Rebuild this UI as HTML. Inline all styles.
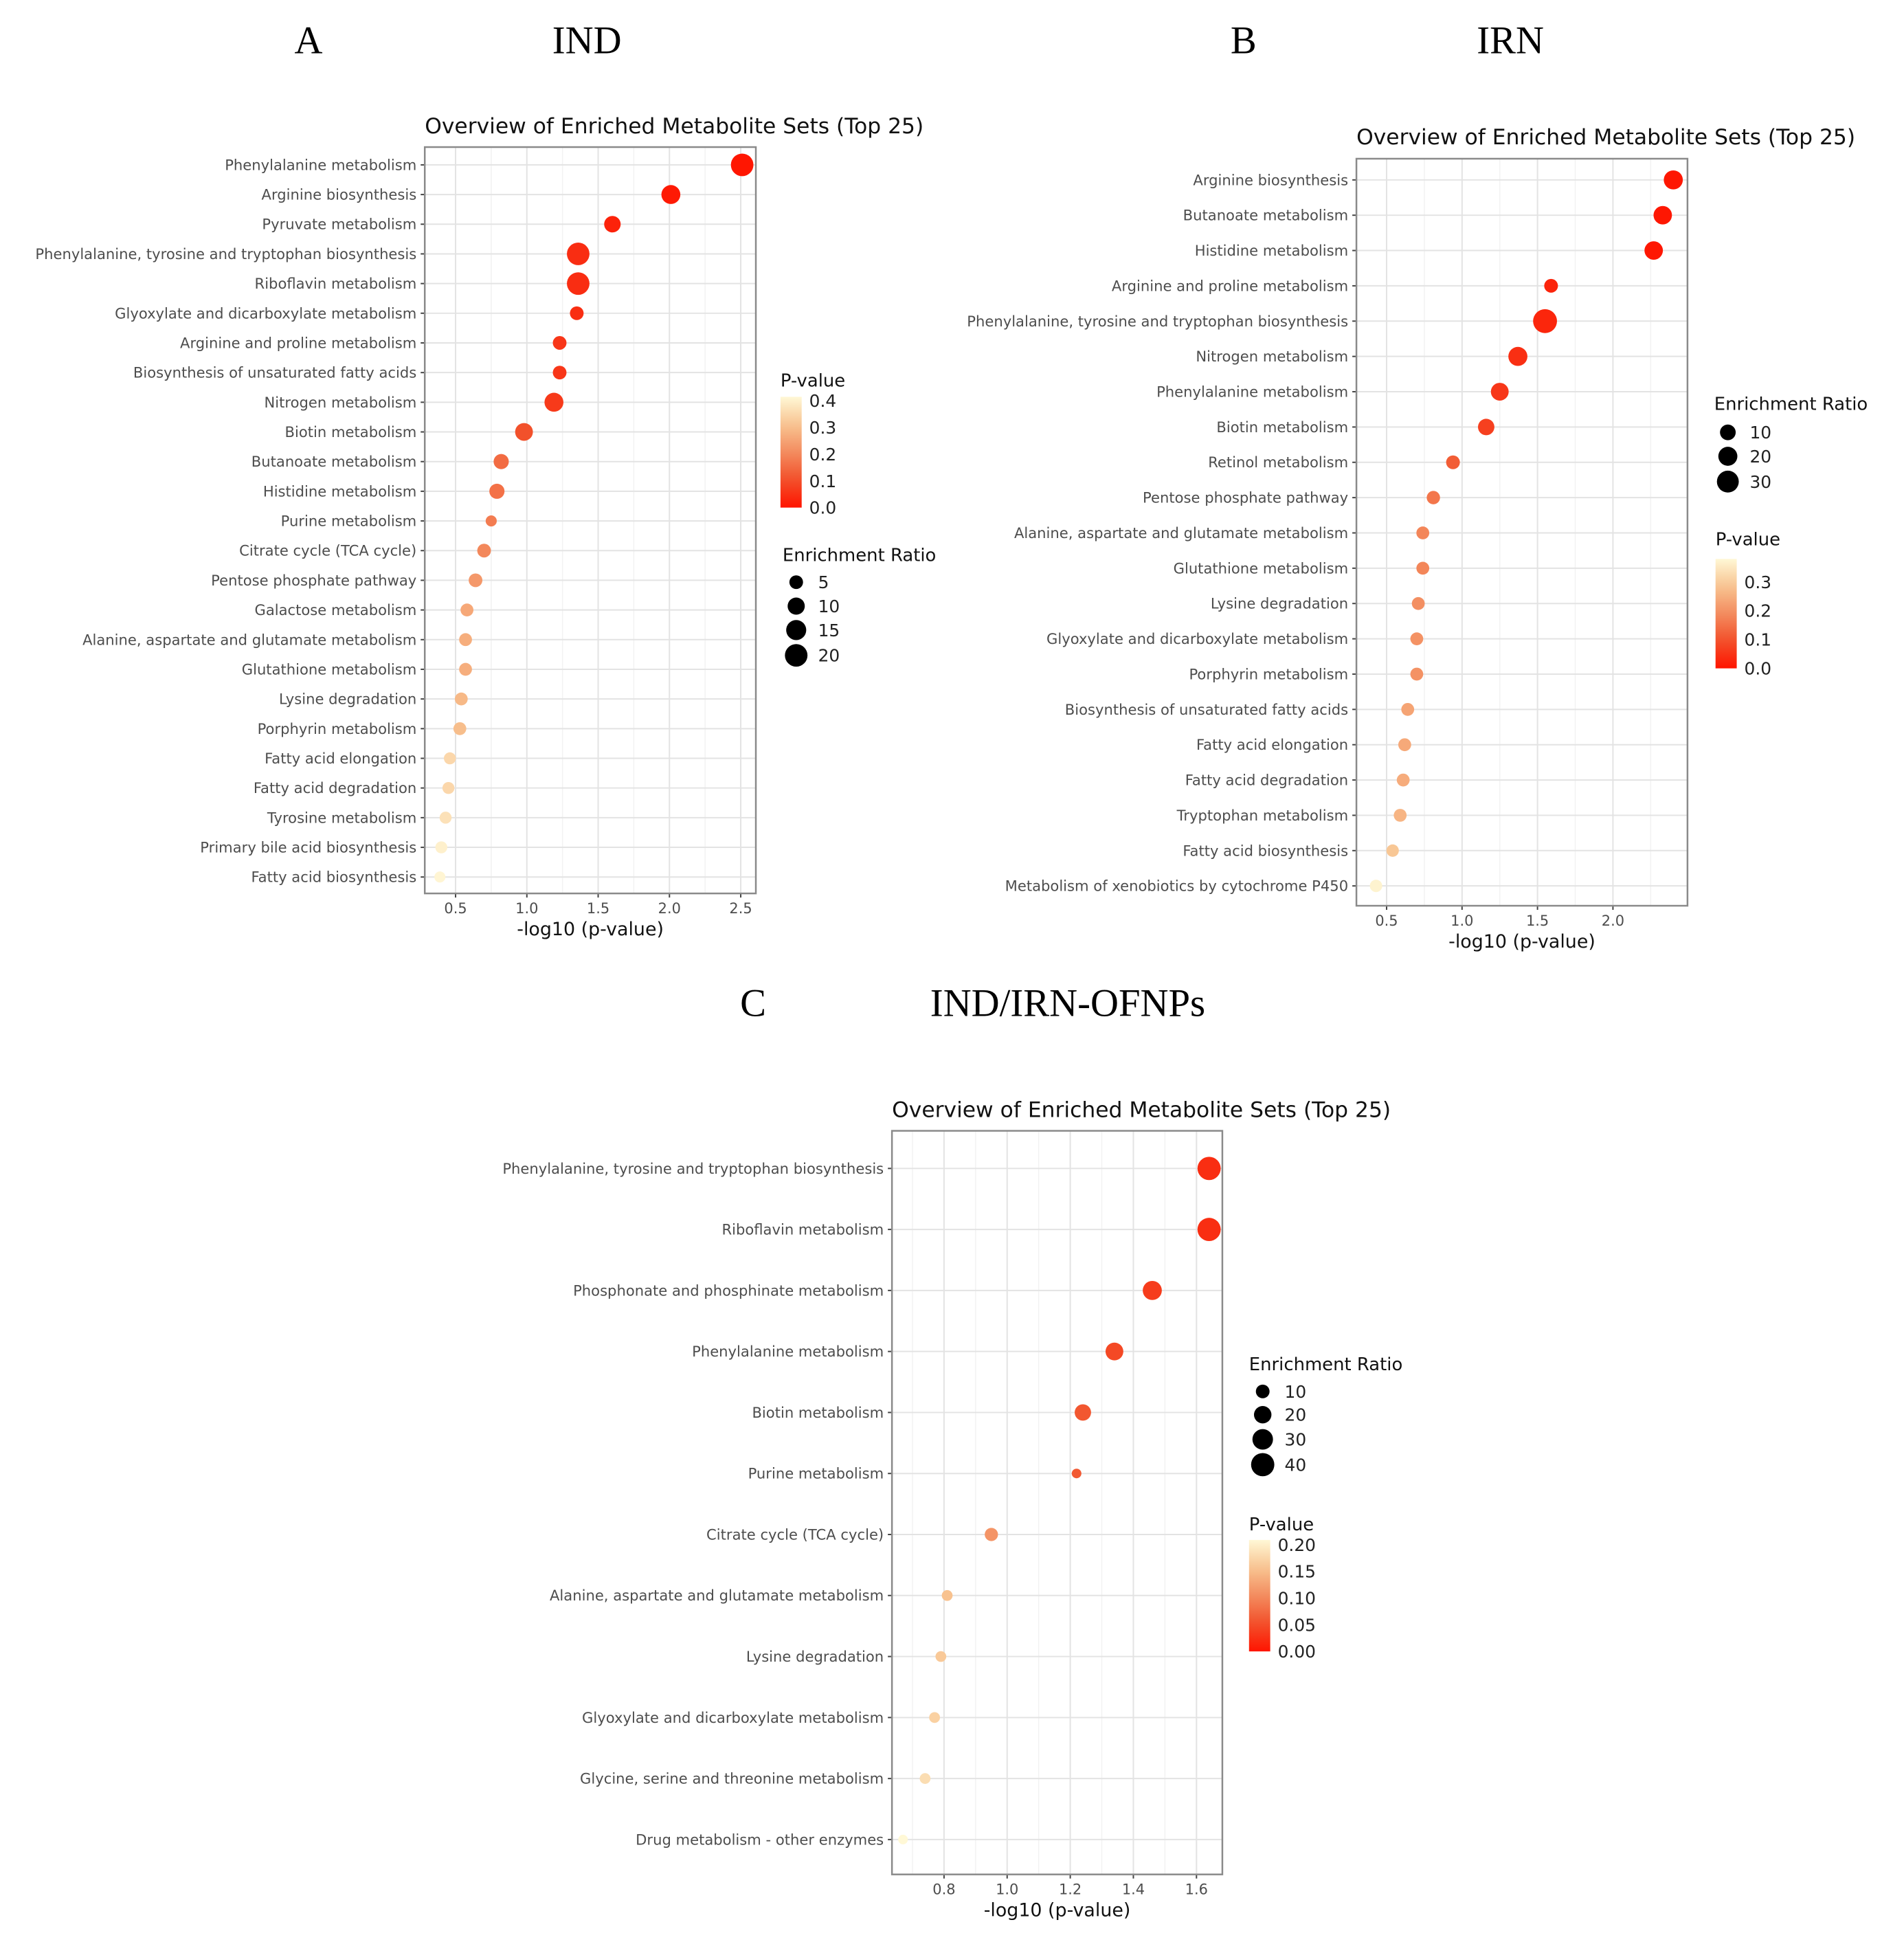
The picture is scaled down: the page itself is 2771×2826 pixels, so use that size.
<!DOCTYPE html>
<html><head><meta charset="utf-8">
<style>
html,body{margin:0;padding:0;background:#fff;}
svg{display:block;}
text{font-family:"DejaVu Sans","Liberation Sans",sans-serif;}
.hdr{font-family:"Liberation Serif",serif;font-size:57px;fill:#000;}
</style></head>
<body>
<svg id="fig" width="2771" height="2826" viewBox="0 0 2771 2826" xmlns="http://www.w3.org/2000/svg">
<g id="root" transform="scale(0.9955)">
<text class="hdr" x="451" y="78" text-anchor="middle">A</text>
<text class="hdr" x="858" y="78" text-anchor="middle">IND</text>
<text class="hdr" x="1818" y="78" text-anchor="middle">B</text>
<text class="hdr" x="2208" y="78" text-anchor="middle">IRN</text>
<text class="hdr" x="1101" y="1485" text-anchor="middle">C</text>
<text class="hdr" x="1561" y="1485" text-anchor="middle">IND/IRN-OFNPs</text>
</g>
</svg>
<script>
// ---------- Panel A data ----------
const catsA = ["Phenylalanine metabolism","Arginine biosynthesis","Pyruvate metabolism","Phenylalanine, tyrosine and tryptophan biosynthesis","Riboflavin metabolism","Glyoxylate and dicarboxylate metabolism","Arginine and proline metabolism","Biosynthesis of unsaturated fatty acids","Nitrogen metabolism","Biotin metabolism","Butanoate metabolism","Histidine metabolism","Purine metabolism","Citrate cycle (TCA cycle)","Pentose phosphate pathway","Galactose metabolism","Alanine, aspartate and glutamate metabolism","Glutathione metabolism","Lysine degradation","Porphyrin metabolism","Fatty acid elongation","Fatty acid degradation","Tyrosine metabolism","Primary bile acid biosynthesis","Fatty acid biosynthesis"];
const xA = [2.51,2.01,1.60,1.36,1.36,1.35,1.23,1.23,1.19,0.98,0.82,0.79,0.75,0.70,0.64,0.58,0.57,0.57,0.54,0.53,0.46,0.45,0.43,0.40,0.39];
const erA = [20,13,9,20,20,5,5,5,13,11,7,7,2,5,5,4,4,4,4,4,3,3,3,3,2];
const pA = [0.003,0.010,0.025,0.044,0.044,0.045,0.059,0.059,0.065,0.105,0.15,0.16,0.18,0.20,0.23,0.26,0.27,0.27,0.29,0.30,0.35,0.35,0.37,0.40,0.41];
const xTicksA = [0.5,1.0,1.5,2.0,2.5];
const pTicksA = [0.0,0.1,0.2,0.3,0.4];
const sizeTicksA = [5,10,15,20];

// ---------- Panel B data ----------
const catsB = ["Arginine biosynthesis","Butanoate metabolism","Histidine metabolism","Arginine and proline metabolism","Phenylalanine, tyrosine and tryptophan biosynthesis","Nitrogen metabolism","Phenylalanine metabolism","Biotin metabolism","Retinol metabolism","Pentose phosphate pathway","Alanine, aspartate and glutamate metabolism","Glutathione metabolism","Lysine degradation","Glyoxylate and dicarboxylate metabolism","Porphyrin metabolism","Biosynthesis of unsaturated fatty acids","Fatty acid elongation","Fatty acid degradation","Tryptophan metabolism","Fatty acid biosynthesis","Metabolism of xenobiotics by cytochrome P450"];
const xB = [2.40,2.33,2.27,1.59,1.55,1.37,1.25,1.16,0.94,0.81,0.74,0.74,0.71,0.70,0.70,0.64,0.62,0.61,0.59,0.54,0.43];
const erB = [20,18,18,5,38,20,16,12,5,4,3,3,3,3,3,3,3,3,3,2,2];
const pB = [0.004,0.005,0.005,0.026,0.028,0.043,0.056,0.069,0.115,0.155,0.18,0.18,0.195,0.20,0.20,0.23,0.24,0.245,0.26,0.29,0.37];
const xTicksB = [0.5,1.0,1.5,2.0];
const pTicksB = [0.0,0.1,0.2,0.3];
const sizeTicksB = [10,20,30];

// ---------- Panel C data ----------
const catsC = ["Phenylalanine, tyrosine and tryptophan biosynthesis","Riboflavin metabolism","Phosphonate and phosphinate metabolism","Phenylalanine metabolism","Biotin metabolism","Purine metabolism","Citrate cycle (TCA cycle)","Alanine, aspartate and glutamate metabolism","Lysine degradation","Glyoxylate and dicarboxylate metabolism","Glycine, serine and threonine metabolism","Drug metabolism - other enzymes"];
const xC = [1.64,1.64,1.46,1.34,1.24,1.22,0.95,0.81,0.79,0.77,0.74,0.67];
const erC = [40,40,25,21,17,2,9,4,4,4,4,2];
const pC = [0.023,0.023,0.035,0.046,0.058,0.060,0.112,0.155,0.162,0.170,0.182,0.214];
const xTicksC = [0.8,1.0,1.2,1.4,1.6];
const pTicksC = [0.00,0.05,0.10,0.15,0.20];
const pTickLabelsC = ["0.00","0.05","0.10","0.15","0.20"];
const sizeTicksC = [10,20,30,40];

const NS = "http://www.w3.org/2000/svg";
const root = document.getElementById('root');
function mk(tag, attrs, parent, txt){
  const e = document.createElementNS(NS, tag);
  for (const k in attrs) e.setAttribute(k, attrs[k]);
  if (txt !== undefined) e.textContent = txt;
  (parent||root).appendChild(e);
  return e;
}
const stops = [[255,20,0],[242,80,42],[243,140,95],[248,196,145],[255,248,214]];
function colorFor(t){
  t = Math.max(0, Math.min(1, t));
  const s = t*(stops.length-1); const i = Math.min(Math.floor(s), stops.length-2); const f = s-i;
  const a = stops[i], b = stops[i+1];
  return 'rgb(' + [0,1,2].map(k=>Math.round(a[k]+(b[k]-a[k])*f)).join(',') + ')';
}

function drawPanel(cfg, cats, xs, ers, ps, xTicks, pTicks, pLabels, sTicks){
  const g = mk('g', {});
  
  
  const L = cfg.left, R = cfg.right, T = cfg.top, B = cfg.bottom;
  const xs2px = v => L + (v - cfg.xmin) / (cfg.xmax - cfg.xmin) * (R - L);
  const n = cats.length;
  const step = (cfg.lastY - cfg.firstY) / (n - 1);
  const yOf = i => cfg.firstY + i * step;
  const rOf = er => Math.sqrt(cfg.ra + cfg.rb * er);

  const title = mk('text', {x: L, y: cfg.titleY, 'font-size': 31.5, fill: '#111'}, g, 'Overview of Enriched Metabolite Sets (Top 25)');
  
  

  for (let k = 0; k < xTicks.length + 1; k++){
    const d = xTicks.length > 1 ? xTicks[1]-xTicks[0] : 0.5;
    const v = xTicks[0] - d/2 + k*d;
    if (v <= cfg.xmin || v >= cfg.xmax) continue;
    const px = xs2px(v);
    const ln = mk('line', {x1: px, x2: px, y1: T, y2: B, stroke: '#f2f2f2', 'stroke-width': 1.5}, g);
    
    
  }
  xTicks.forEach(v => {
    const px = xs2px(v);
    const ln = mk('line', {x1: px, x2: px, y1: T, y2: B, stroke: '#e3e3e3', 'stroke-width': 2}, g);
    
    
    const tk = mk('line', {x1: px, x2: px, y1: B, y2: B + 6, stroke: '#444', 'stroke-width': 2}, g);
    
    
    const lb = mk('text', {x: px, y: B + 29, 'font-size': 21, fill: '#4d4d4d', 'text-anchor': 'middle'}, g, v.toFixed(1));
    
    
  });
  cats.forEach((c, i) => {
    const y = yOf(i);
    const ln = mk('line', {x1: L, x2: R, y1: y, y2: y, stroke: '#e3e3e3', 'stroke-width': 2}, g);
    
    
    const tk = mk('line', {x1: L - 6, x2: L, y1: y, y2: y, stroke: '#444', 'stroke-width': 2}, g);
    
    
    const lb = mk('text', {x: L - 12, y: y + 7.5, 'font-size': 21.2, fill: '#4d4d4d', 'text-anchor': 'end'}, g, c);
    
    
  });
  const order = cats.map((_, i) => i).sort((a, b) => ers[b] - ers[a]);
  order.forEach(i => {
    const c = mk('circle', {cx: xs2px(xs[i]), cy: yOf(i), r: rOf(ers[i]), fill: colorFor(ps[i] / cfg.pmax)}, g);
    
    
  });
  const bx = mk('rect', {x: L, y: T, width: R - L, height: B - T, fill: 'none', stroke: '#8a8a8a', 'stroke-width': 2.5}, g);
  
  
  const xt = mk('text', {x: (L + R) / 2, y: B + 61, 'font-size': 27, fill: '#111', 'text-anchor': 'middle'}, g, '-log10 (p-value)');
  
  

  const cl = cfg.cleg;
  const pt = mk('text', {x: cl.x, y: cl.titleY, 'font-size': 26, fill: '#111'}, g, 'P-value');
  
  
  const gid = cfg.name + '-grad';
  const defs = mk('defs', {}, g);
  const lg = mk('linearGradient', {id: gid, x1: 0, y1: 1, x2: 0, y2: 0}, defs);
  for (let k = 0; k <= 10; k++) mk('stop', {offset: k / 10, 'stop-color': colorFor(k / 10)}, lg);
  const bar = mk('rect', {x: cl.x, y: cl.top, width: 31, height: cl.bottom - cl.top, fill: 'url(#' + gid + ')'}, g);
  
  
  pTicks.forEach((v, k) => {
    const y = cl.bottom - v / cfg.pmax * (cl.bottom - cl.top);
    const lb = mk('text', {x: cl.x + 42, y: y + 9, 'font-size': 25, fill: '#222'}, g, pLabels ? pLabels[k] : v.toFixed(1));
    
    
  });
  const sl = cfg.sleg;
  const st = mk('text', {x: sl.x, y: sl.titleY, 'font-size': 26, fill: '#111'}, g, 'Enrichment Ratio');
  
  
  sTicks.forEach((v, k) => {
    const y = sl.ys[k];
    const c = mk('circle', {cx: sl.x + 20, cy: y, r: rOf(v), fill: '#000'}, g);
    
    
    const lb = mk('text', {x: sl.x + 52, y: y + 9, 'font-size': 25, fill: '#222'}, g, String(v));
    
    
  });
}

drawPanel({name:'panel-a', left:621, right:1105, top:215, bottom:1306, titleY:195, xmin:0.284, xmax:2.606,
  firstY:241, lastY:1282, ra:42.5, rb:11.5, pmax:0.415,
  cleg:{x:1141, titleY:565, top:580, bottom:742},
  sleg:{x:1144, titleY:820, ys:[851,886,921,958]}},
  catsA, xA, erA, pA, xTicksA, pTicksA, null, sizeTicksA);

drawPanel({name:'panel-b', left:1983, right:2467, top:232, bottom:1324, titleY:211, xmin:0.30, xmax:2.494,
  firstY:263, lastY:1295, ra:70, rb:6.2, pmax:0.38,
  cleg:{x:2508, titleY:797, top:817, bottom:977},
  sleg:{x:2506, titleY:599, ys:[632,667,704]}},
  catsB, xB, erB, pB, xTicksB, pTicksB, null, sizeTicksB);

drawPanel({name:'panel-c', left:1304, right:1787, top:1653, bottom:2740, titleY:1633, xmin:0.635, xmax:1.682,
  firstY:1708, lastY:2689, ra:37, rb:6.3, pmax:0.209,
  cleg:{x:1826, titleY:2237, top:2251, bottom:2414},
  sleg:{x:1826, titleY:2003, ys:[2034,2068,2104,2141]}},
  catsC, xC, erC, pC, xTicksC, pTicksC, pTickLabelsC, sizeTicksC);
</script>
</body></html>
